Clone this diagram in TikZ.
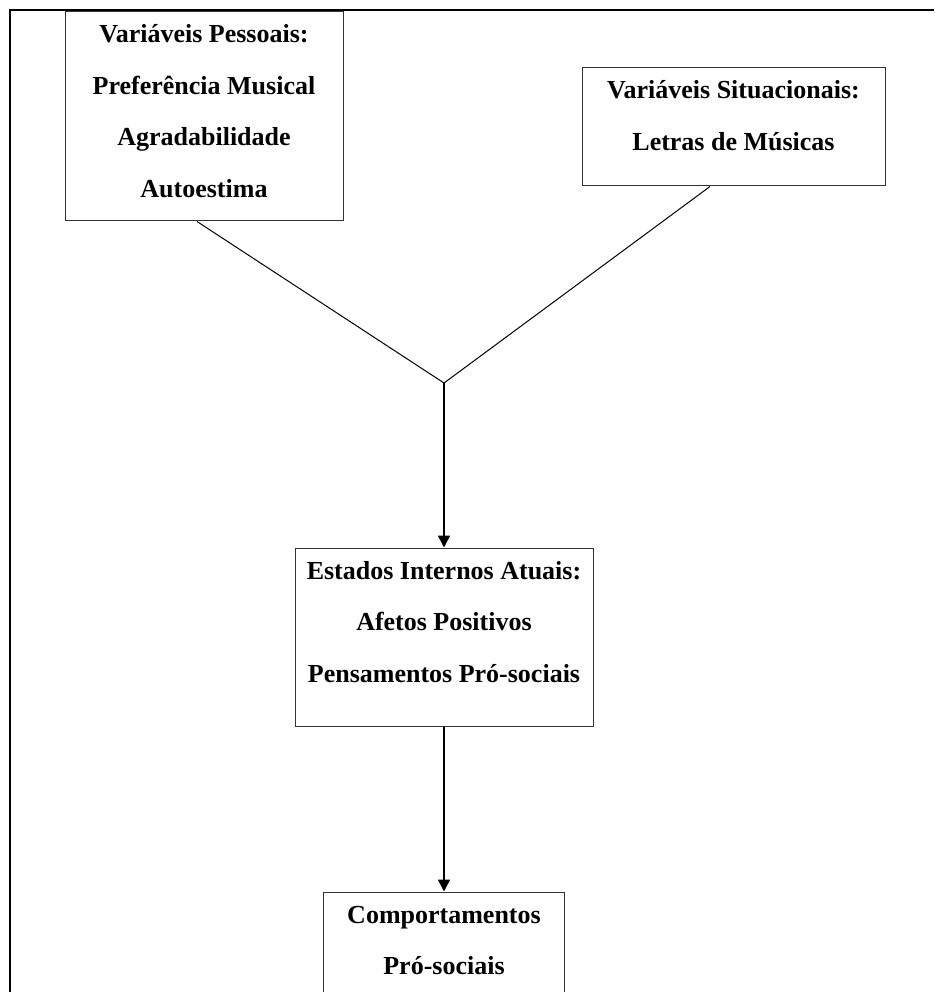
\documentclass[tikz,border=0pt]{standalone}
\usepackage{fontspec}
\setmainfont{Liberation Serif}
\usetikzlibrary{arrows.meta}

\newcommand{\caixatexto}[3]{\parbox[c][#2pt][t]{#1pt}{\centering\vspace*{11pt}\rule{0pt}{20pt}#3}}

\begin{document}
\begin{tikzpicture}[x=1pt, y=-1pt,
    caixa/.style={draw=black!80, line width=1pt, inner sep=0pt, font=\fontsize{26}{51.5}\selectfont\bfseries},
    linha/.style={line width=1pt},
    seta/.style={-{Triangle[width=12pt,length=12pt]}, line width=1.5pt}]
  \useasboundingbox (0,0) rectangle (934,992);
  \clip (0,0) rectangle (934,992);
  \draw[line width=2.5pt] (934,10) -- (10,10) -- (10,992);

  \node[caixa] (pessoais) at (204,116.5) {\caixatexto{278}{209}{Variáveis Pessoais:\\Preferência Musical\\Agradabilidade\\Autoestima}};
  \node[caixa] (situacionais) at (733.5,127) {\caixatexto{303}{118}{Variáveis Situacionais:\\Letras de Músicas}};
  \node[caixa] (estados) at (444,637) {\caixatexto{298}{178}{Estados Internos Atuais:\\Afetos Positivos\\Pensamentos Pró-sociais}};
  \node[caixa] (comportamentos) at (444,957) {\caixatexto{241}{130}{Comportamentos\\Pró-sociais}};

  \coordinate (juncao) at (444,383);
  \draw[linha] ([xshift=-7pt]pessoais.south) -- (juncao) -- ([xshift=-23.5pt]situacionais.south);
  \draw[seta] (juncao) -- (estados.north);
  \draw[seta] (estados.south) -- (comportamentos.north);
\end{tikzpicture}
\end{document}
